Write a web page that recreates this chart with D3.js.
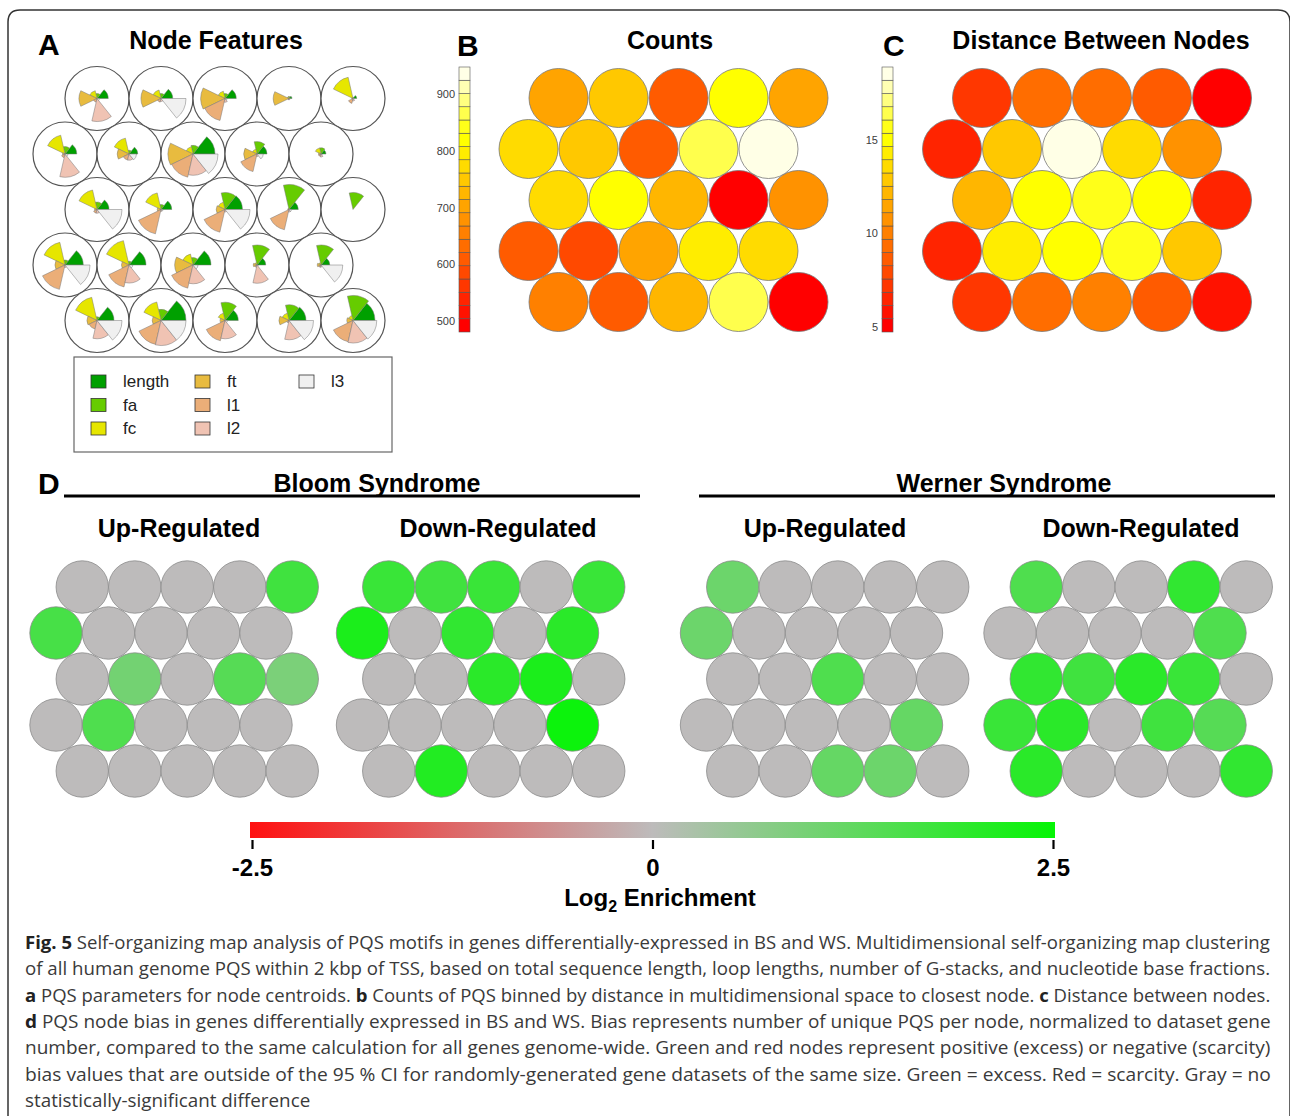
<!DOCTYPE html>
<html>
<head>
<meta charset="utf-8">
<script src="https://cdn.jsdelivr.net/npm/d3@7"></script>
<style>
  body { margin: 0; background: #fff; }
  text { font-family: "Liberation Sans", Arial, sans-serif; }
</style>
</head>
<body>
<svg width="1290" height="1116"></svg>
<script>
// ---- data (rows listed top to bottom, 5 nodes per row) ----
const featureNames = ["length", "fa", "fc", "ft", "l1", "l2", "l3"];

// node centroid codes, each scaled 0..1, order as featureNames
const nodeFeatures = [
  [.45, .2, .32, .72, .15, .92, .1],
  [.47, .2, .35, .8, .15, .12, 1.0],
  [.45, .2, .3, .97, .9, .15, .08],
  [.12, .08, .08, .63, .05, .05, .03],
  [.15, .05, .87, .05, .2, .1, .05],
  [.47, .3, .77, .1, .15, .93, .12],
  [.35, .15, .65, .47, .25, .25, .3],
  [.88, .35, .3, 1.0, .95, .85, 1.0],
  [.4, .5, .2, .53, .72, .1, .25],
  [.2, .25, .25, .1, .1, .12, .05],
  [.48, .3, .8, .1, .15, .15, 1.0],
  [.43, .2, .68, .15, 1.0, .08, .08],
  [.7, .68, .3, .35, .93, .1, 1.0],
  [.37, 1.0, .05, .05, .83, .1, .1],
  [0, .68, 0, 0, 0, 0, 0],
  [.73, .2, .93, .4, 1.0, .1, 1.0],
  [.68, .15, 1.0, .3, .9, .72, .15],
  [.72, .3, .45, .73, .95, .75, .2],
  [.35, .8, .1, .15, .1, .73, .05],
  [.35, .8, .1, .15, .1, .08, .87],
  [.68, .15, .95, .4, .35, .73, 1.0],
  [1.0, .45, .76, .35, .98, 1.0, 1.0],
  [.53, .73, .3, .2, .83, .73, .1],
  [.68, .63, .3, .4, .1, .77, .98],
  [.88, 1.0, .2, .25, .87, .9, .95]
];

const counts = [
  700, 747, 610, 820, 700,
  772, 750, 620, 866, 935,
  772, 815, 725, 492, 680,
  610, 585, 700, 795, 772,
  655, 610, 715, 866, 492
];
const countTicks = [500, 600, 700, 800, 900];

const distances = [
  7.2, 9.3, 9.0, 8.6, 5.1,
  6.8, 13.2, 18.5, 13.9, 10.7,
  12.2, 15.0, 16.0, 15.3, 6.5,
  6.5, 14.3, 15.0, 15.8, 12.9,
  7.2, 9.6, 10.0, 8.6, 5.8
];
const distanceTicks = [5, 10, 15];

// log2 enrichment per node
const bsUp = [
  0, 0, 0, 0, 1.7,
  1.6, 0, 0, 0, 0,
  0, 1.0, 0, 1.4, 0.9,
  0, 1.5, 0, 0, 0,
  0, 0, 0, 0, 0
];
const bsDown = [
  1.8, 1.7, 1.8, 0, 1.8,
  2.2, 0, 1.9, 0, 2.0,
  0, 0, 2.0, 2.2, 0,
  0, 0, 0, 0, 2.4,
  0, 2.1, 0, 0, 0
];
const wsUp = [
  1.1, 0, 0, 0, 0,
  1.1, 0, 0, 0, 0,
  0, 0, 1.5, 0, 0,
  0, 0, 0, 0, 1.2,
  0, 0, 1.2, 1.1, 0
];
const wsDown = [
  1.5, 0, 0, 1.9, 0,
  0, 0, 0, 0, 1.5,
  1.9, 1.7, 2.0, 1.8, 0,
  1.8, 2.0, 0, 1.7, 1.4,
  2.0, 0, 0, 0, 1.9
];
const enrichTicks = [-2.5, 0, 2.5];

// ---- helpers ----
const svg = d3.select("svg");
svg.append("rect").attr("width", 1290).attr("height", 1116).attr("fill", "#fff");

// frame
svg.append("path")
  .attr("d", "M8,1130 V22 Q8,10 20,10 H1278 Q1290,10 1290,22 V1130")
  .attr("fill", "none").attr("stroke", "#333").attr("stroke-width", 1.5);

const featureColors = ["#00a000", "#66cc00", "#e6e600", "#e8bb3f", "#ebae78", "#f0c3b3", "#f0f0f0"];

// R heat.colors(20): 15 hues red->yellow, then 5 desaturating yellows
const heat = [];
for (let i = 0; i < 15; i++) heat.push(d3.rgb(255, Math.round(255 * i / 14), 0).formatHex());
[0.9, 0.7, 0.5, 0.3, 0.1].forEach(s => heat.push(d3.rgb(255, 255, Math.round(255 * (1 - s))).formatHex()));

const rowOf = i => Math.floor(i / 5);
const hexX = i => (i % 5) + (rowOf(i) % 2 === 0 ? 0.5 : 0);

function label(x, y, txt, size, anchor) {
  return svg.append("text").attr("x", x).attr("y", y)
    .attr("font-size", size).attr("font-weight", "bold")
    .attr("text-anchor", anchor || "middle").attr("fill", "#000").text(txt);
}

// ---- panel A: node features ----
label(38, 55, "A", 30, "start");
label(216, 49, "Node Features", 25);

const xA = d3.scaleLinear().domain([0, 1]).range([65, 129]);
const yA = d3.scaleLinear().domain([0, 4]).range([98.5, 320.5]);
const rSeg = d3.scaleLinear().domain([0, 1]).range([0, 25]);
const seg = 2 * Math.PI / featureNames.length;
const arc = d3.arc().innerRadius(0);

const nodesA = svg.append("g").selectAll("g")
  .data(nodeFeatures).join("g")
  .attr("transform", (d, i) => `translate(${xA(hexX(i))},${yA(rowOf(i))})`);

nodesA.append("circle").attr("r", 32)
  .attr("fill", "#fff").attr("stroke", "#555").attr("stroke-width", 1.2);

nodesA.selectAll("path")
  .data(d => d.map((v, k) => ({ v, k })).filter(s => s.v > 0))
  .join("path")
  .attr("d", s => arc({
    outerRadius: rSeg(s.v),
    startAngle: Math.PI / 2 - (s.k + 1) * seg,
    endAngle: Math.PI / 2 - s.k * seg
  }))
  .attr("fill", s => featureColors[s.k])
  .attr("stroke", "#777").attr("stroke-width", 0.5);

// legend
svg.append("rect").attr("x", 74).attr("y", 357).attr("width", 318).attr("height", 95)
  .attr("fill", "#fff").attr("stroke", "#666").attr("stroke-width", 1.2);
const legend = svg.append("g").selectAll("g")
  .data(featureNames).join("g")
  .attr("transform", (d, i) => `translate(${91 + Math.floor(i / 3) * 104},${375 + (i % 3) * 23.5})`);
legend.append("rect").attr("width", 15).attr("height", 13)
  .attr("fill", (d, i) => featureColors[i]).attr("stroke", "#333").attr("stroke-width", 0.8);
legend.append("text").attr("x", 32).attr("y", 12).attr("font-size", 17).attr("fill", "#222").text(d => d);

// ---- panels B and C: heat-coloured node maps ----
function heatPanel(values, domain, ticks, x0, barX, letterX, title, titleX) {
  label(letterX, 56, title[0], 30, "start");
  label(titleX, 49, title[1], 25);

  const color = d3.scaleQuantize().domain(domain).range(heat);
  const yBar = d3.scaleLinear().domain(domain).range([332, 67]);
  const step = (domain[1] - domain[0]) / heat.length;

  svg.append("g").selectAll("rect")
    .data(heat).join("rect")
    .attr("x", barX).attr("width", 11)
    .attr("y", (c, i) => yBar(domain[0] + (i + 1) * step))
    .attr("height", (c, i) => yBar(domain[0] + i * step) - yBar(domain[0] + (i + 1) * step))
    .attr("fill", c => c).attr("stroke", "#555").attr("stroke-width", 0.6);

  const ax = svg.append("g").attr("transform", `translate(${barX - 3},0)`)
    .call(d3.axisLeft(yBar).tickValues(ticks).tickSize(0).tickPadding(1));
  ax.select(".domain").remove();
  ax.selectAll("text").attr("font-size", 11).style("fill", "#3c3c3c")
    .attr("font-family", "Liberation Sans, Arial, sans-serif");

  const xs = d3.scaleLinear().domain([0, 1]).range([x0, x0 + 60]);
  const ys = d3.scaleLinear().domain([0, 4]).range([98, 302]);
  svg.append("g").selectAll("circle")
    .data(values).join("circle")
    .attr("cx", (d, i) => xs(hexX(i))).attr("cy", (d, i) => ys(rowOf(i)))
    .attr("r", 29.5)
    .attr("fill", d => color(d)).attr("stroke", "#777").attr("stroke-width", 0.8);
}

heatPanel(counts, [480.6, 947.5], countTicks, 528.5, 459, 457, ["B", "Counts"], 670);
heatPanel(distances, [4.73, 18.9], distanceTicks, 952, 882, 883, ["C", "Distance Between Nodes"], 1101);

// ---- panel D: enrichment maps ----
label(38, 494, "D", 30, "start");
svg.append("line").attr("x1", 64).attr("x2", 640).attr("y1", 496).attr("y2", 496)
  .attr("stroke", "#000").attr("stroke-width", 3);
svg.append("line").attr("x1", 699).attr("x2", 1275).attr("y1", 496).attr("y2", 496)
  .attr("stroke", "#000").attr("stroke-width", 3);
label(377, 492, "Bloom Syndrome", 25);
label(1004, 492, "Werner Syndrome", 25);

const enrichColor = d3.scaleLinear().domain([-2.5, 0, 2.5])
  .range(["#ff1010", "#bdbbbb", "#05f505"]);

const grids = [
  { values: bsUp, x0: 56, title: "Up-Regulated", tx: 179 },
  { values: bsDown, x0: 362.5, title: "Down-Regulated", tx: 498 },
  { values: wsUp, x0: 706.5, title: "Up-Regulated", tx: 825 },
  { values: wsDown, x0: 1010, title: "Down-Regulated", tx: 1141 }
];
const yD = d3.scaleLinear().domain([0, 4]).range([587, 771]);

grids.forEach(g => {
  label(g.tx, 537, g.title, 25);
  const xs = d3.scaleLinear().domain([0, 1]).range([g.x0, g.x0 + 52.5]);
  svg.append("g").selectAll("circle")
    .data(g.values).join("circle")
    .attr("cx", (d, i) => xs(hexX(i))).attr("cy", (d, i) => yD(rowOf(i)))
    .attr("r", 26.2)
    .attr("fill", d => enrichColor(d)).attr("stroke", "#8a8a8a").attr("stroke-width", 0.8);
});

// gradient legend
const xE = d3.scaleLinear().domain([-2.5, 2.5]).range([252, 1053]);
const grad = svg.append("defs").append("linearGradient").attr("id", "enrich");
d3.range(0, 1.0001, 0.05).forEach(t => {
  grad.append("stop").attr("offset", t).attr("stop-color", enrichColor(-2.5 + 5 * t));
});
svg.append("rect").attr("x", 250).attr("y", 822).attr("width", 805).attr("height", 16)
  .attr("fill", "url(#enrich)");

const axE = svg.append("g").attr("transform", "translate(0,840)")
  .call(d3.axisBottom(xE).tickValues(enrichTicks).tickSize(9)
    .tickFormat(d => d === 0 ? "0" : String(d)));
axE.select(".domain").remove();
axE.selectAll("line").attr("stroke", "#000").attr("stroke-width", 2.2);
axE.selectAll(".tick text")
  .attr("y", 36).attr("dy", null)
  .attr("font-size", 24).attr("font-weight", "bold").style("fill", "#000")
  .attr("font-family", "Liberation Sans, Arial, sans-serif");

const logT = svg.append("text").attr("x", 660).attr("y", 906)
  .attr("font-size", 24).attr("font-weight", "bold").attr("text-anchor", "middle");
logT.append("tspan").text("Log");
logT.append("tspan").attr("font-size", 16).attr("dy", 6).text("2");
logT.append("tspan").attr("dy", -6).text(" Enrichment");

// ---- caption ----
const captionLines = [
  [["Fig. 5", true], [" Self-organizing map analysis of PQS motifs in genes differentially-expressed in BS and WS. Multidimensional self-organizing map clustering", false]],
  [["of all human genome PQS within 2 kbp of TSS, based on total sequence length, loop lengths, number of G-stacks, and nucleotide base fractions.", false]],
  [["a", true], [" PQS parameters for node centroids. ", false], ["b", true], [" Counts of PQS binned by distance in multidimensional space to closest node. ", false], ["c", true], [" Distance between nodes.", false]],
  [["d", true], [" PQS node bias in genes differentially expressed in BS and WS. Bias represents number of unique PQS per node, normalized to dataset gene", false]],
  [["number, compared to the same calculation for all genes genome-wide. Green and red nodes represent positive (excess) or negative (scarcity)", false]],
  [["bias values that are outside of the 95 % CI for randomly-generated gene datasets of the same size. Green = excess. Red = scarcity. Gray = no", false]],
  [["statistically-significant difference", false]]
];

const capTexts = captionLines.map((parts, li) => {
  const t = svg.append("text")
    .attr("transform", `translate(25,${949 + li * 26.3})`)
    .style("font-family", "'Open Sans', 'Noto Sans', sans-serif")
    .attr("font-size", 18).attr("fill", "#3a3a3a");
  parts.forEach(p => t.append("tspan").attr("font-weight", p[1] ? "bold" : null)
    .attr("fill", p[1] ? "#222" : null).text(p[0]));
  return t;
});
const scales = [];
capTexts.forEach((t, li) => {
  if (li < capTexts.length - 1) {
    const w = t.node().getComputedTextLength();
    scales.push(1246 / w);
  }
});
const meanScale = d3.mean(scales);
capTexts.forEach((t, li) => {
  const s = li < scales.length ? scales[li] : meanScale;
  t.attr("transform", `translate(25,${949 + li * 26.3}) scale(${s},1)`);
});
</script>
</body>
</html>
